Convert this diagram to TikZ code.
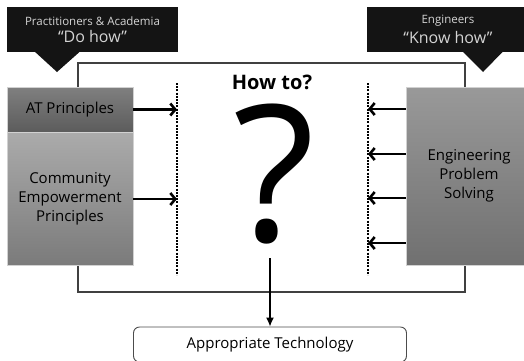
\documentclass[tikz,border=0pt]{standalone}
\usepackage{fontspec}
\setmainfont{Open Sans}
\usetikzlibrary{arrows.meta,positioning}

\definecolor{tagtext}{HTML}{D4D4D4}

\begin{document}
\begin{tikzpicture}[
  x=1pt, y=-1pt,
  tag/.style={fill=black!92, text=tagtext, align=center, minimum height=45pt, inner sep=0pt},
  block/.style={draw=black!18, line width=0.5pt, align=center, inner sep=0pt,
                minimum width=126pt, font=\fontsize{15}{19}\selectfont},
  result/.style={draw=black!70, line width=0.9pt, rounded corners=6pt, align=center,
                 minimum width=273pt, minimum height=35pt, fill=white,
                 font=\fontsize{15}{19}\selectfont},
  fence/.style={line width=2.6pt, dash pattern=on 2pt off 1.2pt},
  feed/.style={-{Straight Barb[length=5pt, width=12pt]}, line width=2.6pt},
  drop/.style={-{Latex[length=9pt, width=8pt]}, line width=1.4pt}
]
\useasboundingbox (0,0) rectangle (524,360);
\clip (0,0) rectangle (524,360);

% outer frame
\draw[black!75, line width=1.2pt] (78,63) rectangle (465,292);

% the two callouts on top
\node[tag, minimum width=171pt] (practice) at (92.5,29.5)
  {\fontsize{11.5}{14}\selectfont Practitioners \& Academia\\[4pt]{\fontsize{16}{16}\selectfont “Do how”}};
\node[tag, minimum width=162pt] (engineers) at (448,29.5)
  {\fontsize{11.5}{14}\selectfont Engineers\\[4pt]{\fontsize{16}{16}\selectfont “Know how”}};
\coordinate (ptip) at (57,72);
\coordinate (etip) at (483,72);
\fill[black!92] ([xshift=28pt, yshift=0.5pt]practice.south west) -- ([xshift=73pt, yshift=0.5pt]practice.south west) -- (ptip) -- cycle;
\fill[black!92] ([xshift=96pt, yshift=0.5pt]engineers.south west) -- ([xshift=136pt, yshift=0.5pt]engineers.south west) -- (etip) -- cycle;

% input blocks
\node[block, minimum height=45pt, top color=black!50, bottom color=black!64] (atp) at (70,109.5) {AT Principles};
\node[block, minimum height=133pt, top color=black!33, bottom color=black!52, below=0pt of atp] (cep) {Community\\Empowerment\\Principles};
\node[block, minimum height=178pt, top color=black!40, bottom color=black!56] (eps) at (469,176) {Engineering\\Problem\\Solving};

% centre
\node[font=\fontsize{20}{24}\selectfont\bfseries, inner sep=0pt] (howto) at (272,82) {How to?};
\node[font=\fontsize{190}{190}\selectfont, inner sep=0pt] (qmark) at (274,174) {?};

% dotted fences
\coordinate (lfence) at (177,83);
\coordinate (rfence) at (368,83);
\draw[fence] (lfence) -- ++(0,192);
\draw[fence] (rfence) -- ++(0,192);

% arrows into the fences
\draw[feed] (atp.east) -- (atp.east -| lfence);
\draw[feed] (cep.east) -- (cep.east -| lfence);
\foreach \dy in {67,22,-22,-67} {
  \coordinate (src) at ([yshift=\dy pt]eps.west);
  \draw[feed] (src) -- (src -| rfence);
}

% output
\node[result] (apt) at (270,344.5) {Appropriate Technology};
\coordinate (qfoot) at (270,258);
\draw[drop] (qfoot) -- (apt);
\end{tikzpicture}
\end{document}
